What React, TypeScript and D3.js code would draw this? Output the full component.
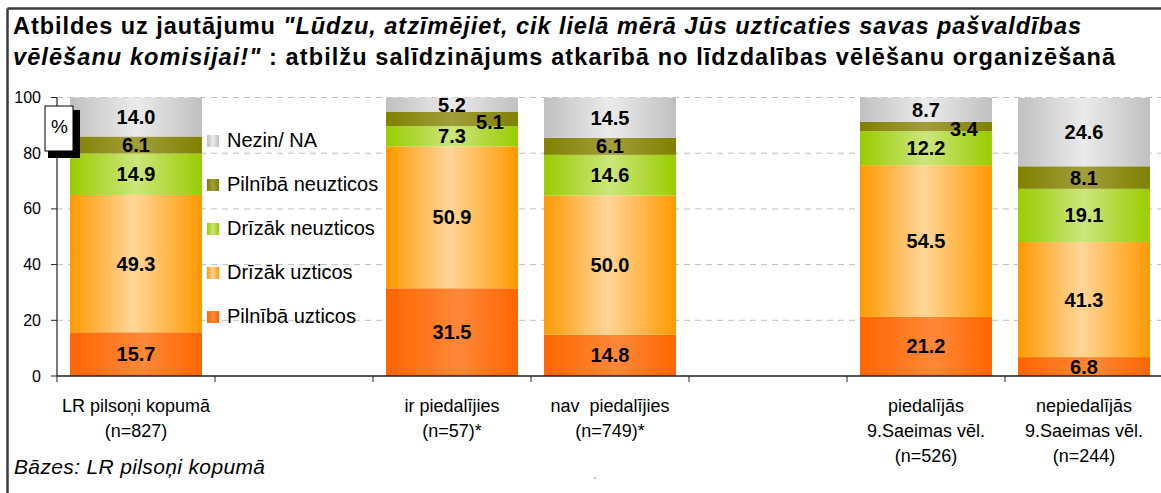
import React from "react";
import * as d3 from "d3";

// ---- data ----
const categories: string[] = ["c1", "gap1", "c2", "c3", "gap2", "c4", "c5"];
const categoryLabels: string[][] = [
  ["LR pilsoņi kopumā", "(n=827)"],
  [],
  ["ir piedalījies", "(n=57)*"],
  ["nav  piedalījies", "(n=749)*"],
  [],
  ["piedalījās", "9.Saeimas vēl.", "(n=526)"],
  ["nepiedalījās", "9.Saeimas vēl.", "(n=244)"],
];
const seriesNames: string[] = [
  "Pilnībā uzticos",
  "Drīzāk uzticos",
  "Drīzāk neuzticos",
  "Pilnībā neuzticos",
  "Nezin/ NA",
];
const pilnibaUzticos: (number | null)[] = [15.7, null, 31.5, 14.8, null, 21.2, 6.8];
const drizakUzticos: (number | null)[] = [49.3, null, 50.9, 50.0, null, 54.5, 41.3];
const drizakNeuzticos: (number | null)[] = [14.9, null, 7.3, 14.6, null, 12.2, 19.1];
const pilnibaNeuzticos: (number | null)[] = [6.1, null, 5.1, 6.1, null, 3.4, 8.1];
const nezin: (number | null)[] = [14.0, null, 5.2, 14.5, null, 8.7, 24.6];
const seriesValues = [pilnibaUzticos, drizakUzticos, drizakNeuzticos, pilnibaNeuzticos, nezin];
const yTicks: number[] = [0, 20, 40, 60, 80, 100];

const gradients: { id: string; edge: string; mid: string; pos: number }[] = [
  { id: "g0", edge: "#FF6600", mid: "#FF8838", pos: 0.55 },
  { id: "g1", edge: "#FF9900", mid: "#FFD699", pos: 0.48 },
  { id: "g2", edge: "#99CC00", mid: "#CCE67C", pos: 0.5 },
  { id: "g3", edge: "#808000", mid: "#A29E3C", pos: 0.5 },
  { id: "g4", edge: "#C0C0C0", mid: "#EBEBEB", pos: 0.5 },
];

const FONT = "'Liberation Sans', Arial, Helvetica, sans-serif";

export default function App() {
  const W = 1161;
  const H = 493;
  const x = d3
    .scaleBand<string>()
    .domain(categories)
    .range([57, 1163])
    .paddingInner(0.165)
    .paddingOuter(0.0825);
  const y = d3.scaleLinear().domain([0, 100]).range([376, 97.5]);

  const stackRows = categories.map((c, i) => {
    const row: any = { cat: c };
    seriesNames.forEach((s, k) => (row[s] = seriesValues[k][i] ?? 0));
    return row;
  });
  const stacked = d3.stack<any>().keys(seriesNames)(stackRows);

  const legendOrder = [4, 3, 2, 1, 0];

  return (
    <svg
      width={W}
      height={H}
      style={{ position: "absolute", left: 0, top: 0, background: "#fff" }}
      fontFamily={FONT}
    >
      <defs>
        {gradients.map((g) => (
          <linearGradient key={g.id} id={g.id} x1="0" x2="1" y1="0" y2="0">
            <stop offset="0" stopColor={g.edge} />
            <stop offset={g.pos} stopColor={g.mid} />
            <stop offset="1" stopColor={g.edge} />
          </linearGradient>
        ))}
      </defs>
      <rect x={0} y={0} width={W} height={H} fill="#fff" />

      {/* frame */}
      <line x1={7.5} x2={W} y1={8.5} y2={8.5} stroke="#3c3c3c" strokeWidth={2.5} />
      <line x1={7.5} x2={7.5} y1={8.5} y2={H} stroke="#3c3c3c" strokeWidth={2.5} />

      {/* title */}
      <text
        x={13}
        y={34}
        fontSize={23.5}
        fontWeight="bold"
        fill="#000"
        textLength={1068}
        lengthAdjust="spacing"
      >
        <tspan>Atbildes uz jautājumu </tspan>
        <tspan fontStyle="italic">"Lūdzu, atzīmējiet, cik lielā mērā Jūs uzticaties savas pašvaldības</tspan>
      </text>
      <text
        x={13}
        y={64.5}
        fontSize={23.5}
        fontWeight="bold"
        fill="#000"
        textLength={1102}
        lengthAdjust="spacing"
      >
        <tspan fontStyle="italic">vēlēšanu komisijai!"</tspan>
        <tspan> : atbilžu salīdzinājums atkarībā no līdzdalības vēlēšanu organizēšanā</tspan>
      </text>

      {/* gridlines */}
      {yTicks
        .filter((t) => t > 0)
        .map((t) => (
          <line
            key={"g" + t}
            x1={57}
            x2={W}
            y1={y(t)}
            y2={y(t)}
            stroke="#c0c0c0"
            strokeWidth={1}
            strokeDasharray="6,5"
          />
        ))}

      {/* bars */}
      {stacked.map((layer, k) =>
        layer.map((d, i) => {
          const v = seriesValues[k][i];
          if (v == null) return null;
          const bx = x(categories[i])!;
          return (
            <rect
              key={k + "-" + i}
              x={bx}
              width={x.bandwidth()}
              y={y(d[1])}
              height={y(d[0]) - y(d[1])}
              fill={`url(#${gradients[k].id})`}
            />
          );
        })
      )}

      {/* data labels */}
      {stacked.map((layer, k) =>
        layer.map((d, i) => {
          const v = seriesValues[k][i];
          if (v == null) return null;
          const shift = k === 3 && v < 6;
          const cx = x(categories[i])! + x.bandwidth() / 2 + (shift ? 38 : 0);
          const cy = (y(d[0]) + y(d[1])) / 2 + (shift ? 3 : 0);
          return (
            <text
              key={"l" + k + "-" + i}
              x={cx}
              y={cy + 7}
              textAnchor="middle"
              fontSize={20}
              fontWeight="bold"
              fill="#000"
            >
              {d3.format(".1f")(v)}
            </text>
          );
        })
      )}

      {/* y axis */}
      <line x1={57} x2={57} y1={y(100)} y2={y(0)} stroke="#222" strokeWidth={1.2} />
      {yTicks.map((t) => (
        <g key={"yt" + t}>
          <line x1={51} x2={57} y1={y(t)} y2={y(t)} stroke="#222" strokeWidth={1} />
          <text x={41} y={y(t) + 5.5} textAnchor="end" fontSize={16} fill="#000">
            {t}
          </text>
        </g>
      ))}

      {/* x axis */}
      <line x1={57} x2={W} y1={y(0)} y2={y(0)} stroke="#222" strokeWidth={1.5} />
      {categories.map((c) => {
        const step = x.step();
        const left = x(c)! - (step * x.paddingInner()) / 2;
        return (
          <line
            key={"xt" + c}
            x1={left}
            x2={left}
            y1={y(0)}
            y2={y(0) + 6}
            stroke="#222"
            strokeWidth={1}
          />
        );
      })}
      {categories.map((c, i) =>
        categoryLabels[i].map((line, j) => (
          <text
            key={"xl" + c + j}
            x={x(c)! + x.bandwidth() / 2}
            y={411.5 + j * 25}
            textAnchor="middle"
            fontSize={18}
            fill="#000"
            style={{ whiteSpace: "pre" }}
          >
            {line}
          </text>
        ))
      )}

      {/* percent box */}
      <rect x={48} y={110} width={32} height={48} fill="#000" />
      <rect x={45} y={106} width={28} height={45} fill="#fff" stroke="#000" strokeWidth={1} />
      <text x={59.5} y={133} textAnchor="middle" fontSize={19} fill="#000">
        %
      </text>

      {/* legend */}
      {legendOrder.map((k, j) => {
        const base = 147 + j * 44;
        return (
          <g key={"lg" + k}>
            <rect x={207} y={base - 12} width={12} height={12} fill={`url(#${gradients[k].id})`} />
            <text x={227} y={base} fontSize={20} fill="#000">
              {seriesNames[k]}
            </text>
          </g>
        );
      })}

      {/* base note */}
      <text
        x={14}
        y={474}
        fontSize={21}
        fontStyle="italic"
        fill="#000"
        textLength={251}
        lengthAdjust="spacing"
      >
        Bāzes: LR pilsoņi kopumā
      </text>
      <circle cx={595} cy={478} r={0.8} fill="#888" />
    </svg>
  );
}
